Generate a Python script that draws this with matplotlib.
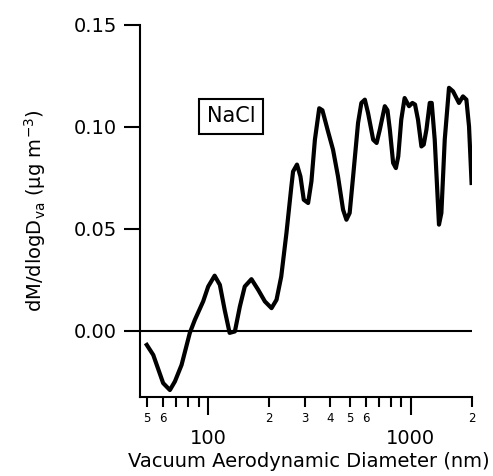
import matplotlib
matplotlib.use("Agg")
import matplotlib.pyplot as plt
from matplotlib.ticker import FixedLocator, FuncFormatter
import numpy as np

plt.rcParams['font.family'] = ['DejaVu Sans']
plt.rcParams['mathtext.default'] = 'regular'

# vacuum aerodynamic diameter (nm) and mass distribution (ug m-3)
diameter = [50, 53.8, 60.2, 65, 68.8, 74.2, 81.5, 86.3, 94.8, 100.4, 108, 114.6, 121,
            128, 135.9, 143.8, 152, 164, 177, 191, 206, 218, 230, 244, 258, 263, 275,
            286, 297, 312, 324, 337, 354, 367, 391, 414, 438, 464, 482, 500, 520, 550,
            571, 594, 616, 653, 679, 704, 745, 768, 789, 819, 845, 868, 898, 933, 981,
            1019, 1050, 1086, 1129, 1159, 1195, 1241, 1269, 1313, 1378, 1416, 1471,
            1544, 1616, 1729, 1809, 1881, 1938, 1995]
dmdlogd = [-0.0069, -0.0118, -0.0256, -0.029, -0.0248, -0.0167, -0.001, 0.0054, 0.0144,
           0.0217, 0.027, 0.0225, 0.0103, -0.001, -0.0003, 0.0119, 0.0217, 0.0253,
           0.0201, 0.0144, 0.0111, 0.0152, 0.0266, 0.0479, 0.0707, 0.078, 0.0814,
           0.0756, 0.0642, 0.0626, 0.0732, 0.0936, 0.109, 0.108, 0.0977, 0.0887,
           0.0756, 0.0593, 0.0544, 0.0577, 0.0756, 0.1018, 0.1116, 0.1132, 0.1067,
           0.0936, 0.092, 0.0985, 0.11, 0.108, 0.0985, 0.0822, 0.0797, 0.0854, 0.1034,
           0.114, 0.110, 0.1116, 0.1108, 0.1034, 0.0903, 0.0912, 0.0985, 0.1116,
           0.1116, 0.0936, 0.052, 0.0577, 0.0936, 0.119, 0.1173, 0.1116, 0.1148,
           0.1132, 0.1001, 0.0724]

yticks = [0.00, 0.05, 0.10, 0.15]
major_x = [100, 1000]
minor_x = [50, 60, 70, 80, 90, 200, 300, 400, 500, 600, 700, 800, 900, 2000]
minor_labels = {50: '5', 60: '6', 200: '2', 300: '3', 400: '4', 500: '5', 600: '6', 2000: '2'}

fig = plt.figure(figsize=(4.93, 4.76), dpi=100)
ax = fig.add_axes([0.284, 0.166, 0.673, 0.7825])

ax.axhline(0, color='black', lw=1.5, zorder=1)
ax.plot(diameter, dmdlogd, color='black', lw=3, solid_joinstyle='round', zorder=2)

ax.set_xscale('log')
ax.set_xlim(46.3, 2000)
ax.set_ylim(-0.0324, 0.15)

for side in ['top', 'right']:
    ax.spines[side].set_visible(False)
for side in ['left', 'bottom']:
    ax.spines[side].set_linewidth(1.5)

ax.set_yticks(yticks)
ax.set_yticklabels(['%.2f' % v for v in yticks])
ax.tick_params(axis='y', length=11.5, width=1.5, pad=5, labelsize=14)

ax.xaxis.set_major_locator(FixedLocator(major_x))
ax.xaxis.set_minor_locator(FixedLocator(minor_x))
ax.xaxis.set_major_formatter(FuncFormatter(lambda v, p: '%d' % v))
ax.xaxis.set_minor_formatter(FuncFormatter(lambda v, p: minor_labels.get(int(round(v)), '')))
ax.tick_params(axis='x', which='major', length=13, width=1.5, pad=10, labelsize=14)
ax.tick_params(axis='x', which='minor', length=7, width=1.5, pad=4, labelsize=8.5)

ax.set_xlabel('Vacuum Aerodynamic Diameter (nm)', fontsize=14)
ax.xaxis.set_label_coords(0.51, -0.148)
ax.set_ylabel('dM/dlogD$_{va}$ (μg m$^{-3}$)', fontsize=14)
ax.yaxis.set_label_coords(-0.278, 0.5)

ax.text(130, 0.105, 'NaCl', fontsize=15, ha='center', va='center',
        bbox=dict(boxstyle='square,pad=0.35', fc='white', ec='black', lw=1.5))

fig.savefig('out.png', dpi=100)
